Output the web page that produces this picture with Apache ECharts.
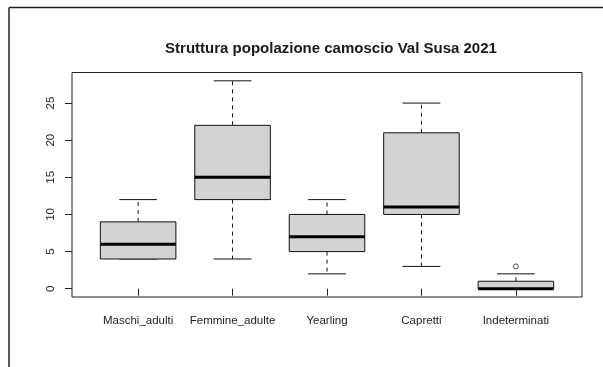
<!DOCTYPE html>
<html>
<head>
<meta charset="utf-8">
<script src="https://cdn.jsdelivr.net/npm/echarts@6/dist/echarts.min.js"></script>
<style>
html,body{margin:0;padding:0;background:#fff;}
#chart{width:603px;height:367px;}
</style>
</head>
<body>
<div id="chart"></div>
<script>
var titleText = 'Struttura popolazione camoscio Val Susa 2021';
var categories = ['Maschi_adulti', 'Femmine_adulte', 'Yearling', 'Capretti', 'Indeterminati'];
var lowerWhisker = [4, 4, 2, 3, 0];
var q1 = [4, 12, 5, 10, 0];
var median = [6, 15, 7, 11, 0];
var q3 = [9, 22, 10, 21, 1];
var upperWhisker = [12, 28, 12, 25, 2];
var outlierCategory = [4];
var outlierValue = [3];
var yTicks = [0, 5, 10, 15, 20, 25];
var xTicks = [1, 2, 3, 4, 5];

var boxData = categories.map(function (c, i) {
  return [i + 1, lowerWhisker[i], q1[i], median[i], q3[i], upperWhisker[i]];
});
var outlierData = outlierCategory.map(function (c, i) {
  return [c + 1, outlierValue[i]];
});

var chart = echarts.init(document.getElementById('chart'), null, {renderer: 'canvas'});

function renderBox(params, api) {
  var x = api.value(0);
  var lo = api.value(1), a = api.value(2), m = api.value(3), b = api.value(4), hi = api.value(5);
  var unit = api.size([1, 0])[0];
  var hw = unit * 0.4;
  var cw = unit * 0.2;
  var pLo = api.coord([x, lo]), pA = api.coord([x, a]), pM = api.coord([x, m]),
      pB = api.coord([x, b]), pHi = api.coord([x, hi]);
  var cx = pA[0];
  var blk = '#111';
  var children = [];
  children.push({type: 'line', shape: {x1: cx, y1: pB[1], x2: cx, y2: pHi[1]},
    style: {stroke: blk, lineWidth: 1, lineDash: [4, 4]}});
  children.push({type: 'line', shape: {x1: cx, y1: pA[1], x2: cx, y2: pLo[1]},
    style: {stroke: blk, lineWidth: 1, lineDash: [4, 4]}});
  children.push({type: 'line', shape: {x1: cx - cw, y1: pHi[1], x2: cx + cw, y2: pHi[1]},
    style: {stroke: blk, lineWidth: 1}});
  children.push({type: 'line', shape: {x1: cx - cw, y1: pLo[1], x2: cx + cw, y2: pLo[1]},
    style: {stroke: blk, lineWidth: 1}});
  children.push({type: 'rect', shape: {x: cx - hw, y: pB[1], width: 2 * hw, height: pA[1] - pB[1]},
    style: {fill: '#d3d3d3', stroke: blk, lineWidth: 1}});
  children.push({type: 'line', shape: {x1: cx - hw, y1: pM[1], x2: cx + hw, y2: pM[1]},
    style: {stroke: '#000', lineWidth: 3}});
  return {type: 'group', children: children};
}

var option = {
  backgroundColor: '#fff',
  animation: false,
  title: {
    text: titleText,
    left: 326,
    textAlign: 'center',
    top: 36,
    textStyle: {fontFamily: 'Liberation Sans', fontWeight: 'bold', fontSize: 15, color: '#1a1a1a'}
  },
  grid: {
    left: 72, right: 21, top: 72.5, bottom: 70,
    show: true, borderColor: '#222', borderWidth: 1, backgroundColor: 'transparent'
  },
  xAxis: {
    type: 'value',
    min: 0.3, max: 5.7,
    splitLine: {show: false},
    axisLine: {show: false},
    axisTick: {show: true, length: 7, lineStyle: {color: '#222'}, customValues: xTicks},
    axisLabel: {
      show: true, customValues: xTicks, margin: 18,
      fontFamily: 'Liberation Sans', fontSize: 11.5, color: '#222',
      formatter: function (v) { return categories[Math.round(v) - 1] || ''; }
    }
  },
  yAxis: {
    type: 'value',
    min: -1.12, max: 29.12,
    splitLine: {show: false},
    axisLine: {show: false},
    axisTick: {show: true, length: 7, lineStyle: {color: '#222'}, customValues: yTicks},
    axisLabel: {
      show: true, customValues: yTicks, rotate: 90, margin: 15,
      fontFamily: 'Liberation Sans', fontSize: 11.5, color: '#222',
      formatter: function (v) { return String(v); }
    }
  },
  graphic: [
    {type: 'line', shape: {x1: 9, y1: 7.5, x2: 603, y2: 7.5}, style: {stroke: '#222', lineWidth: 1.5}},
    {type: 'line', shape: {x1: 9, y1: 7.5, x2: 9, y2: 367}, style: {stroke: '#222', lineWidth: 1.5}}
  ],
  series: [
    {
      type: 'custom',
      renderItem: renderBox,
      data: boxData,
      encode: {x: 0, y: [1, 2, 3, 4, 5]},
      clip: false
    },
    {
      type: 'scatter',
      data: outlierData,
      symbol: 'circle',
      symbolSize: 5,
      itemStyle: {color: '#fff', borderColor: '#222', borderWidth: 1}
    }
  ]
};
chart.setOption(option);
</script>
</body>
</html>
